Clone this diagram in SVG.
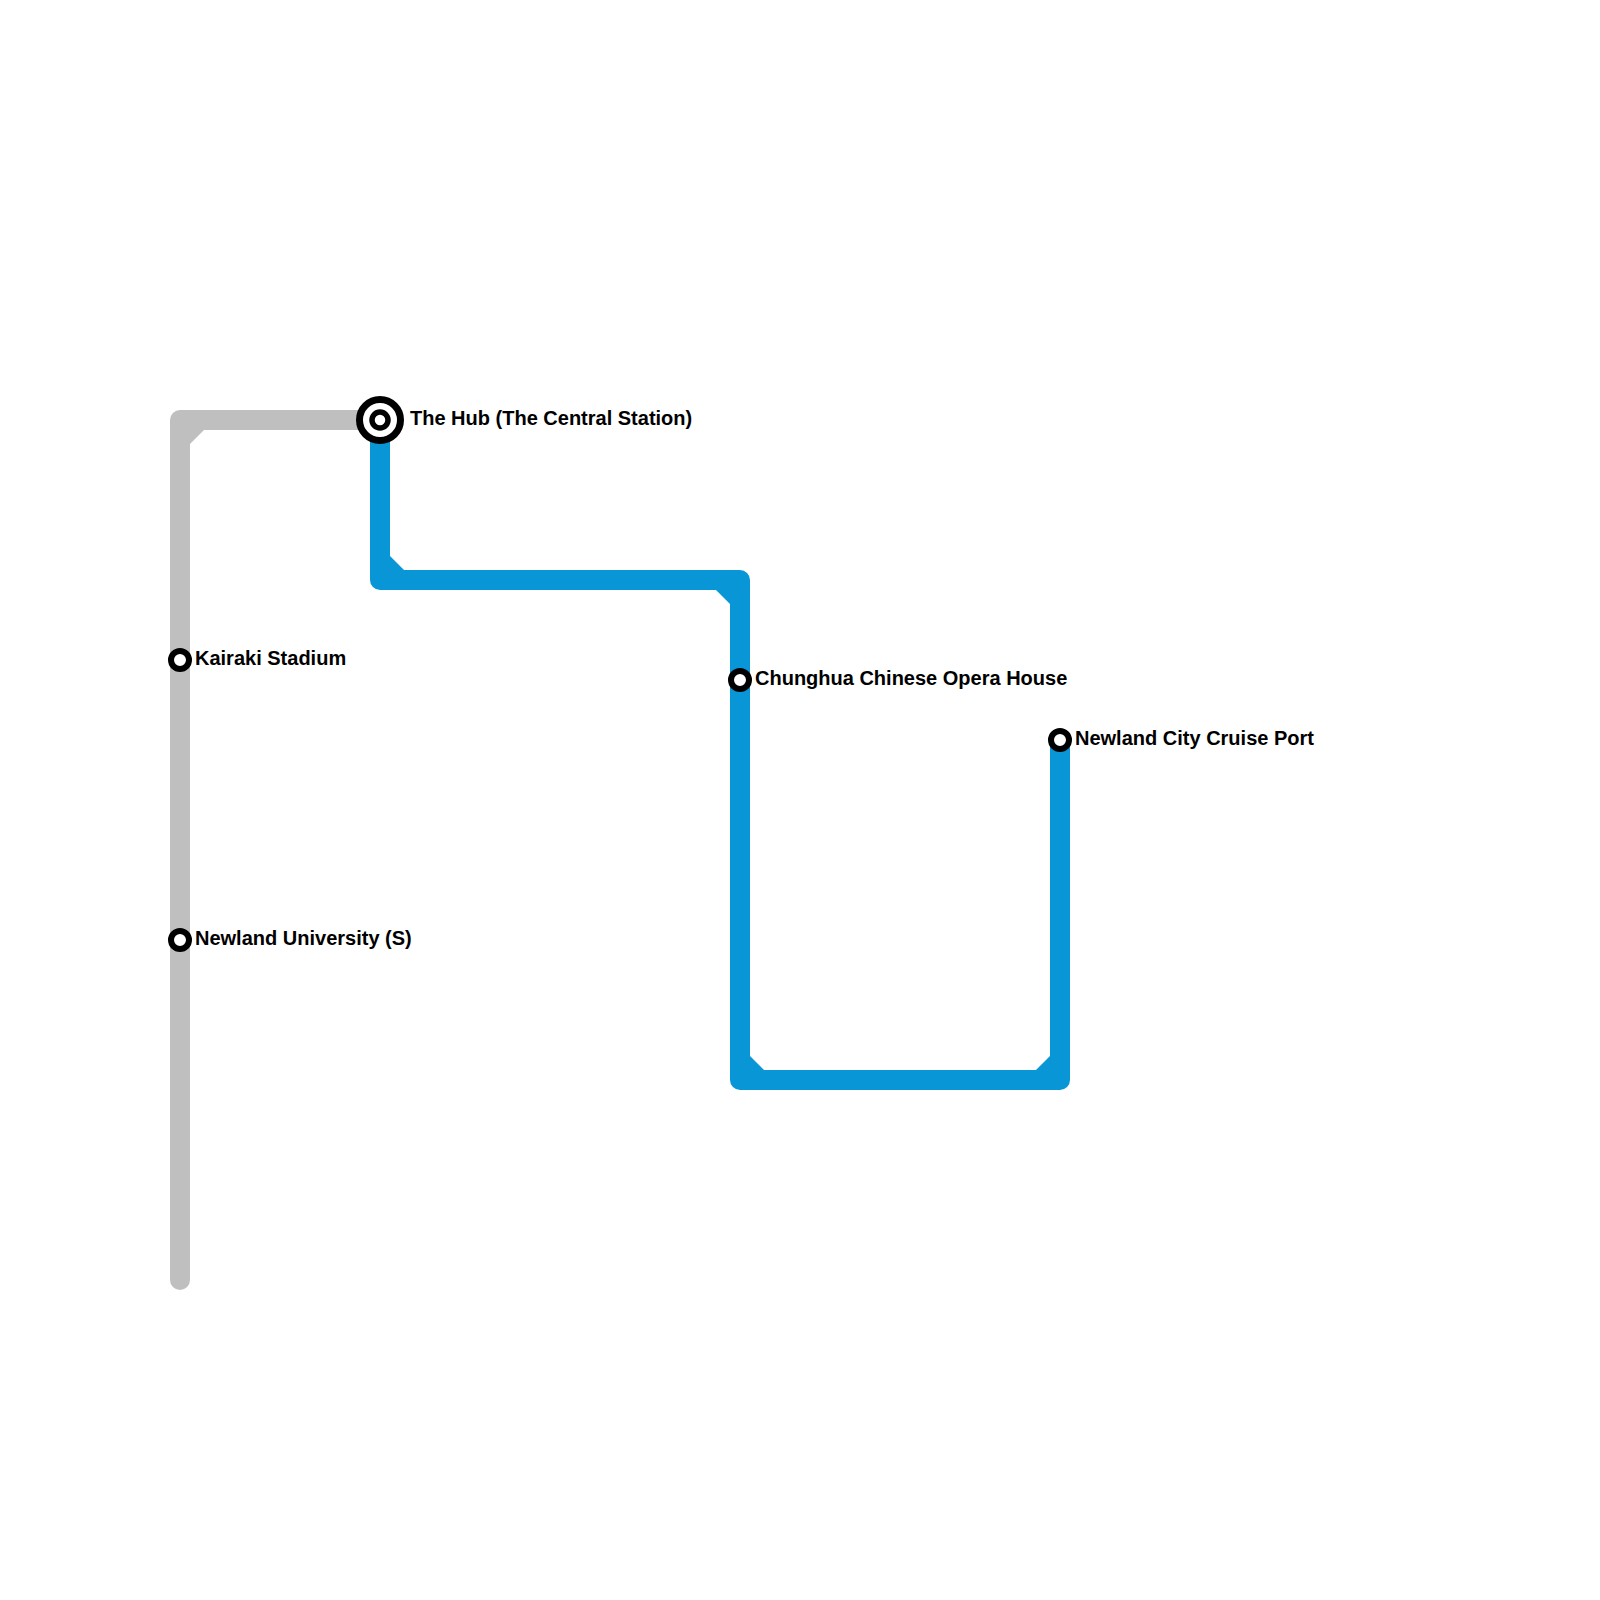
<svg xmlns="http://www.w3.org/2000/svg" width="1600" height="1600" viewBox="0 0 1600 1600">
<style>
.line{fill:none;stroke-width:20;stroke-linecap:round;stroke-linejoin:round}
.gray{stroke:#bfbfbf}.grayf{fill:#bfbfbf}
.blue{stroke:#0896d7}.bluef{fill:#0896d7}
.ring{fill:#fff;stroke:#000;stroke-width:6}
.hubo{fill:#fff;stroke:#000;stroke-width:7}
text{font-family:"Liberation Sans",Arial,sans-serif;font-weight:700;font-size:20px;fill:#000}
</style>
<rect width="1600" height="1600" fill="#fff"/>
<g id="connectors">
<path class="line gray" d="M180 1280V420H380"/>
<path class="grayf" d="M190 430H204L190 444Z"/>
<path class="line blue" d="M380 420V580H740V1080H1060V740"/>
<path class="bluef" d="M390 556V570H404Z"/>
<path class="bluef" d="M716 590H730V604Z"/>
<path class="bluef" d="M750 1056V1070H764Z"/>
<path class="bluef" d="M1050 1056V1070H1036Z"/>
</g>
<g id="hub"><circle class="hubo" cx="380" cy="420" r="20.5"/><circle cx="380" cy="420" r="8" fill="#fff" stroke="#000" stroke-width="5.5"/><text x="410" y="425">The Hub (The Central Station)</text></g>
<g id="kairaki"><circle class="ring" cx="180" cy="660" r="9"/><text x="195" y="665">Kairaki Stadium</text></g>
<g id="university"><circle class="ring" cx="180" cy="940" r="9"/><text x="195" y="945">Newland University (S)</text></g>
<g id="chunghua"><circle class="ring" cx="740" cy="680" r="9"/><text x="755" y="685">Chunghua Chinese Opera House</text></g>
<g id="cruise"><circle class="ring" cx="1060" cy="740" r="9"/><text x="1075" y="745">Newland City Cruise Port</text></g>
</svg>
